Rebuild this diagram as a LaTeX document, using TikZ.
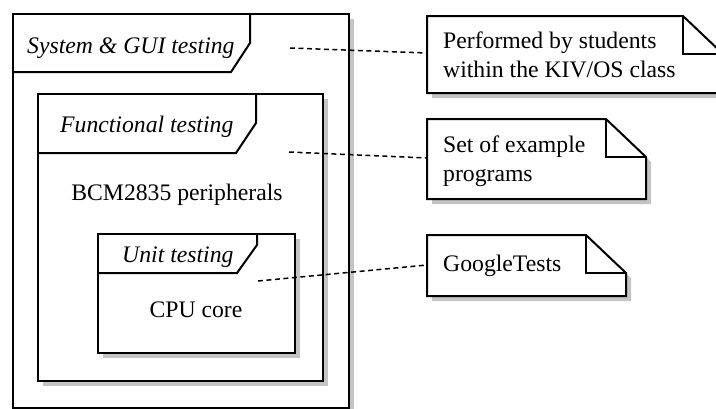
\documentclass[tikz,border=0pt]{standalone}
\usepackage{fontspec}
\setmainfont{Liberation Serif}
\definecolor{shadowc}{HTML}{C4C4C4}
\newcommand\umlnote[1]{%
  \fill[shadowc] ([shift={(5,5)}]#1.north west) -- ([shift={(-35,5)}]#1.north east)
    -- ([shift={(5,43)}]#1.north east) -- ([shift={(5,5)}]#1.south east)
    -- ([shift={(5,5)}]#1.south west) -- cycle;
  \draw[boxline,fill=white] (#1.north west) -- ([shift={(-40,0)}]#1.north east)
    -- ([shift={(0,38)}]#1.north east) -- (#1.south east) -- (#1.south west) -- cycle;
  \draw[boxline] ([shift={(-40,0)}]#1.north east) -- ([shift={(-40,38)}]#1.north east)
    -- ([shift={(0,38)}]#1.north east);
}
\newcommand\umlframe[1]{%
  \fill[shadowc] ([shift={(5,5)}]#1.north west) rectangle ([shift={(5,5)}]#1.south east);
  \draw[boxline,fill=white] (#1.north west) rectangle (#1.south east);
}
\begin{document}
\begin{tikzpicture}[x=1pt,y=-1pt,
  boxline/.style={draw=black,line width=2pt,line join=miter},
  area/.style={draw=none,inner sep=0pt,outer sep=0pt,anchor=north west},
  conn/.style={draw=black,line width=1.5pt,dash pattern=on 5pt off 3.5pt},
  lbl/.style={font=\fontsize{23.7}{28.5}\selectfont,inner sep=0pt},
  tablbl/.style={font=\fontsize{23.7}{28.5}\selectfont\itshape,inner sep=0pt,anchor=base west},
  ]
\useasboundingbox (0,0) rectangle (716,408);

% areas (invisible placeholders)
\node[area,minimum width=336pt,minimum height=393.5pt] (sys) at (13,14) {};
\node[area,minimum width=285pt,minimum height=287pt] (fun) at (38,94) {};
\node[area,minimum width=197pt,minimum height=119pt] (unit) at (98,234) {};
\node[area,minimum width=296pt,minimum height=77pt] (n1) at (427,16) {};
\node[area,minimum width=219pt,minimum height=80pt] (n2) at (427,119) {};
\node[area,minimum width=199pt,minimum height=61pt] (n3) at (427,235) {};

% outer frame
\umlframe{sys}
\draw[boxline] (250,14) -- (250,43) -- (231,72) -- (13,72);
\node[tablbl] (tsys) at (27,53) {System \& GUI testing};

% functional frame
\umlframe{fun}
\draw[boxline] (256,94) -- (256,123) -- (236,153) -- (38,153);
\node[tablbl] (tfun) at (60,132) {Functional testing};
\node[lbl,anchor=base] (bcm) at (177,200) {BCM2835 peripherals};

% unit frame
\umlframe{unit}
\draw[boxline] (257,234) -- (257,245) -- (237,273) -- (98,273);
\node[tablbl] (tunit) at (122,262) {Unit testing};
\node[lbl,anchor=base] (cpu) at (196,317) {CPU core};

% notes
\umlnote{n1}
\node[lbl,align=left,anchor=west] (t1) at (443,55) {Performed by students\\within the KIV/OS class};
\umlnote{n2}
\node[lbl,align=left,anchor=west] (t2) at (443,161) {Set of example\\programs};
\umlnote{n3}
\node[lbl,anchor=west] (t3) at (443,266) {GoogleTests};

% connectors
\coordinate (c1) at (290,48);
\coordinate (c2) at (289,152);
\coordinate (c3) at (258,281);
\draw[conn] (c1) -- (n1.west |- 0,53);
\draw[conn] (c2) -- (n2.west |- 0,158);
\draw[conn] (c3) -- (n3.west |- 0,265);
\end{tikzpicture}
\end{document}
